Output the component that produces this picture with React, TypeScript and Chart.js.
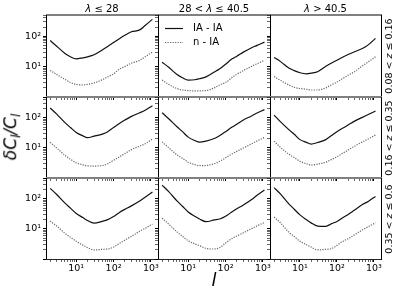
import React, { useEffect, useRef } from "react";
import { Chart, registerables } from "chart.js";

Chart.register(...registerables);
Chart.defaults.font.family = "'DejaVu Sans', sans-serif";

// multipole values l
const multipoles = [2, 3, 5, 7, 10, 15, 20, 30, 50, 70, 100, 150, 200, 300, 500, 700, 1100];

// row 1: 0.08 < z <= 0.16
const iaIa_z1_lam1 = [72, 47, 27, 21, 18, 19.5, 21, 24.5, 35, 46, 62, 86, 108, 140, 162, 225, 360];
const nIa_z1_lam1 = [7.5, 5.5, 3.8, 3.0, 2.6, 2.5, 2.6, 2.9, 3.7, 4.6, 5.8, 8.5, 10, 13, 16, 21, 30];
const iaIa_z1_lam2 = [14, 9.5, 5.5, 4.3, 3.6, 3.7, 4.0, 4.6, 6.6, 8.5, 12, 18, 22, 30, 42, 50, 64];
const nIa_z1_lam2 = [3.6, 2.6, 1.9, 1.7, 1.62, 1.6, 1.6, 1.63, 2.0, 2.5, 3.0, 4.4, 5.6, 7.4, 10.2, 12.5, 16];
const iaIa_z1_lam3 = [20, 14.6, 9, 7.4, 6.3, 5.8, 6.1, 6.8, 10.3, 13, 16.3, 21, 25, 31, 40, 52, 85];
const nIa_z1_lam3 = [4.7, 3.5, 2.5, 2.1, 1.9, 1.8, 1.7, 1.7, 2.0, 2.5, 3.1, 4.2, 5.2, 6.8, 10.8, 14.3, 21];

// row 2: 0.16 < z <= 0.35
const iaIa_z2_lam1 = [215, 134, 70, 48, 33, 25.4, 22, 24.7, 29, 35, 48, 68, 85, 113, 149, 182, 257];
const nIa_z2_lam1 = [15.5, 10, 5.7, 4.2, 3.2, 2.75, 2.55, 2.5, 2.6, 3.0, 3.9, 5.2, 6.5, 8.8, 11.5, 13.8, 20];
const iaIa_z2_lam2 = [150, 94, 51, 35, 23, 17.7, 15.6, 16.9, 20.6, 26, 35, 50, 62, 86, 117, 146, 190];
const nIa_z2_lam2 = [16, 10.2, 5.9, 4.5, 3.35, 2.8, 2.57, 2.6, 3.0, 3.6, 4.7, 6.4, 7.7, 10, 13.8, 17.2, 22.5];
const iaIa_z2_lam3 = [125, 74, 41, 28.6, 19, 15.4, 13.5, 15.2, 19, 25.5, 35, 47, 58, 78.5, 107, 131, 170];
const nIa_z2_lam3 = [17, 10.4, 6.2, 4.8, 3.6, 3.0, 2.7, 2.9, 3.36, 4.1, 5.1, 6.9, 8.5, 11.5, 16.2, 20, 27];

// row 3: 0.35 < z <= 0.6
const iaIa_z3_lam1 = [225, 141, 73, 49.5, 33, 24, 19.3, 15.7, 18, 20.5, 26, 37, 45, 59, 86, 115, 170];
const nIa_z3_lam1 = [18.5, 12.5, 7.2, 5.3, 3.9, 2.9, 2.4, 2.0, 2.1, 2.15, 2.5, 3.4, 4.25, 5.7, 8.4, 10.5, 14.5];
const iaIa_z3_lam2 = [290, 176, 86, 57, 37, 26.5, 21.6, 17.5, 20, 21.5, 26.5, 37.5, 47, 63, 96, 134, 200];
const nIa_z3_lam2 = [23, 14.5, 8, 5.7, 4.05, 3.2, 2.8, 2.25, 2.15, 2.4, 3.4, 4.85, 5.8, 7.5, 10.3, 12.7, 16.5];
const iaIa_z3_lam3 = [240, 145, 68.5, 45.6, 29.5, 20.3, 16, 12.5, 12.3, 14.8, 17.8, 24.7, 30.5, 43, 66.5, 83, 122];
const nIa_z3_lam3 = [25, 15.9, 7.8, 5.6, 3.9, 3.0, 2.5, 2.0, 2.1, 2.2, 2.85, 4.0, 4.7, 6.4, 9.5, 11.9, 16];

const seriesNames = ["IA - IA", "n - IA"];
const lambdaTitles = ["λ ≤ 28", "28 < λ ≤ 40.5", "λ > 40.5"];
const zTitles = ["0.08 < z ≤ 0.16", "0.16 < z ≤ 0.35", "0.35 < z ≤ 0.6"];
const xMajorTicks = [10, 100, 1000];
const xTickLabels = ["10¹", "10²", "10³"];
const yMajorTicks = [10, 100];
const yTickLabels = ["10¹", "10²"];
const xRange = [1.55, 1550];
const yRange = [1, 500];

const iaIaSeries = [
  [iaIa_z1_lam1, iaIa_z1_lam2, iaIa_z1_lam3],
  [iaIa_z2_lam1, iaIa_z2_lam2, iaIa_z2_lam3],
  [iaIa_z3_lam1, iaIa_z3_lam2, iaIa_z3_lam3],
];
const nIaSeries = [
  [nIa_z1_lam1, nIa_z1_lam2, nIa_z1_lam3],
  [nIa_z2_lam1, nIa_z2_lam2, nIa_z2_lam3],
  [nIa_z3_lam1, nIa_z3_lam2, nIa_z3_lam3],
];

function logTicks(min: number, max: number) {
  const out: number[] = [];
  for (let e = -1; e <= 4; e++) {
    for (let m = 1; m <= 9; m++) {
      const v = Math.round(m * Math.pow(10, e) * 1000) / 1000;
      if (v >= min && v <= max) out.push(v);
    }
  }
  return out;
}
const xTickValues = logTicks(xRange[0], xRange[1]);
const yTickValues = logTicks(yRange[0], yRange[1]);

const colEdges = [46, 158, 270, 381];
const rowEdges = [15, 97, 178, 259];
const FONT = "'DejaVu Sans', sans-serif";

const framePlugin = {
  id: "frame",
  afterDatasetsDraw(chart: any, _a: any, opts: any) {
    const { left, right, top, bottom } = chart.chartArea;
    const ctx = chart.ctx;
    ctx.save();
    ctx.fillStyle = "#808080";
    ctx.fillRect(left, top - 1, right - left + 1, 2);
    if (opts.lastRow) {
      ctx.fillStyle = "#222";
      ctx.fillRect(left, bottom, right - left + 1, 1);
    } else {
      ctx.fillRect(left, bottom - 1, right - left + 1, 2);
    }
    ctx.fillStyle = "#000";
    ctx.fillRect(left, top, 1, bottom - top);
    ctx.fillRect(right, top, 1, bottom - top + 1);
    ctx.restore();
  },
};

const innerLegendPlugin = {
  id: "innerLegend",
  afterDatasetsDraw(chart: any, _a: any, opts: any) {
    if (!opts.show) return;
    const { left, top } = chart.chartArea;
    const ctx = chart.ctx;
    ctx.save();
    chart.data.datasets.forEach((ds: any, i: number) => {
      const y = top + 13.5 + i * 14;
      ctx.strokeStyle = ds.borderColor;
      ctx.lineWidth = ds.borderWidth;
      ctx.setLineDash(ds.borderDash || []);
      ctx.beginPath();
      ctx.moveTo(left + 7, y);
      ctx.lineTo(left + 25, y);
      ctx.stroke();
      ctx.setLineDash([]);
      ctx.fillStyle = "#000";
      ctx.font = `10px ${FONT}`;
      ctx.textBaseline = "middle";
      ctx.fillText(ds.label, left + 35, y);
    });
    ctx.restore();
  },
};

function zeroPadding(s: any) {
  s.paddingTop = 0;
  s.paddingBottom = 0;
  s.paddingLeft = 0;
  s.paddingRight = 0;
}

function Panel({ row, col }: { row: number; col: number }) {
  const ref = useRef<HTMLCanvasElement>(null);
  const pw = colEdges[col + 1] - colEdges[col];
  const ph = rowEdges[row + 1] - rowEdges[row];
  const LM = col === 0 ? 34 : 4;
  const BM = row === 2 ? 18 : 4;
  const TM = 2;
  const RM = 2;
  const W = pw + LM + RM;
  const H = ph + TM + BM;

  useEffect(() => {
    const solid = iaIaSeries[row][col];
    const dotted = nIaSeries[row][col];
    const chart = new Chart(ref.current as HTMLCanvasElement, {
      type: "line",
      data: {
        datasets: [
          {
            label: seriesNames[0],
            data: multipoles.map((l, i) => ({ x: l, y: solid[i] })),
            borderColor: "#111",
            borderWidth: 1.2,
            pointRadius: 0,
            cubicInterpolationMode: "monotone",
            fill: false,
          },
          {
            label: seriesNames[1],
            data: multipoles.map((l, i) => ({ x: l, y: dotted[i] })),
            borderColor: "#666",
            borderWidth: 1.2,
            borderDash: [1.2, 1.3],
            pointRadius: 0,
            cubicInterpolationMode: "monotone",
            fill: false,
          },
        ],
      },
      options: {
        responsive: false,
        animation: false,
        devicePixelRatio: 1,
        events: [],
        layout: { padding: { left: 0, right: RM, top: TM, bottom: 0 }, autoPadding: false },
        plugins: {
          legend: { display: false },
          tooltip: { enabled: false },
          frame: { lastRow: row === 2 },
          innerLegend: { show: row === 0 && col === 1 },
        } as any,
        scales: {
          x: {
            type: "logarithmic",
            min: xRange[0],
            max: xRange[1],
            afterBuildTicks: (s: any) => {
              s.ticks = xTickValues.map((v) => ({ value: v, major: xMajorTicks.includes(v) }));
            },
            afterFit: (s: any) => {
              s.height = BM;
              zeroPadding(s);
            },
            ticks: {
              display: row === 2,
              autoSkip: false,
              maxRotation: 0,
              minRotation: 0,
              padding: 1,
              color: "#000",
              font: { size: 9.5, family: FONT },
              callback: (v: any) => {
                const k = xMajorTicks.indexOf(Number(v));
                return k >= 0 ? xTickLabels[k] : "";
              },
            },
            grid: {
              display: true,
              drawOnChartArea: false,
              drawTicks: true,
              tickLength: 3,
              tickColor: "#000",
              tickWidth: (c: any) => (c.tick && c.tick.major ? 1 : 0.6),
            },
            border: { display: false },
          },
          y: {
            type: "logarithmic",
            min: yRange[0],
            max: yRange[1],
            afterBuildTicks: (s: any) => {
              s.ticks = yTickValues.map((v) => ({ value: v, major: v === 1 || yMajorTicks.includes(v) }));
            },
            afterFit: (s: any) => {
              s.width = LM;
              zeroPadding(s);
            },
            ticks: {
              display: col === 0,
              autoSkip: false,
              padding: 2,
              color: "#000",
              font: { size: 9.5, family: FONT },
              callback: (v: any) => {
                const k = yMajorTicks.indexOf(Number(v));
                return k >= 0 ? yTickLabels[k] : "";
              },
            },
            grid: {
              display: true,
              drawOnChartArea: false,
              drawTicks: true,
              tickLength: 3,
              tickColor: "#000",
              tickWidth: (c: any) => (c.tick && c.tick.major ? 1 : 0.6),
            },
            border: { display: false },
          },
        },
      } as any,
      plugins: [framePlugin, innerLegendPlugin],
    });
    return () => chart.destroy();
  }, []);

  return (
    <canvas
      ref={ref}
      width={W}
      height={H}
      style={{
        position: "absolute",
        left: colEdges[col] - LM,
        top: rowEdges[row] - TM,
        width: W,
        height: H,
        display: "block",
      }}
    />
  );
}

function italicize(text: string, sym: string) {
  const parts = text.split(sym);
  const out: React.ReactNode[] = [];
  parts.forEach((p, i) => {
    if (i > 0) out.push(<i key={"s" + i}>{sym}</i>);
    out.push(<span key={"p" + i}>{p}</span>);
  });
  return out;
}

export default function App() {
  const panels: React.ReactNode[] = [];
  for (let r = 0; r < 3; r++) for (let c = 0; c < 3; c++) panels.push(<Panel key={`${r}-${c}`} row={r} col={c} />);
  const sub: React.CSSProperties = { fontSize: "0.7em", verticalAlign: "-0.3em" };
  return (
    <div
      style={{
        position: "absolute",
        left: 0,
        top: 0,
        width: 399,
        height: 299,
        background: "#fff",
        overflow: "hidden",
        fontFamily: FONT,
        color: "#000",
      }}
    >
      {panels}
      {lambdaTitles.map((t, c) => (
        <div
          key={"t" + c}
          style={{
            position: "absolute",
            left: (colEdges[c] + colEdges[c + 1]) / 2,
            top: 3,
            transform: "translateX(-50%)",
            fontSize: 10,
            lineHeight: "11px",
            whiteSpace: "nowrap",
          }}
        >
          {italicize(t, "λ")}
        </div>
      ))}
      {zTitles.map((t, r) => (
        <div
          key={"z" + r}
          style={{
            position: "absolute",
            left: 388,
            top: (rowEdges[r] + rowEdges[r + 1]) / 2,
            transform: "translate(-50%, -50%) rotate(-90deg)",
            fontSize: 9.5,
            lineHeight: "11px",
            whiteSpace: "nowrap",
          }}
        >
          {italicize(t, "z")}
        </div>
      ))}
      <div
        style={{
          position: "absolute",
          left: 13,
          top: 137,
          transform: "translate(-50%, -50%) rotate(-90deg)",
          fontSize: 17,
          lineHeight: "20px",
          whiteSpace: "nowrap",
          fontStyle: "italic",
        }}
      >
        δC<span style={sub}>l</span>/C<span style={sub}>l</span>
      </div>
      <div
        style={{
          position: "absolute",
          left: 214,
          top: 280,
          transform: "translate(-50%, -50%)",
          fontSize: 18,
          lineHeight: "20px",
          fontStyle: "italic",
        }}
      >
        l
      </div>
    </div>
  );
}
